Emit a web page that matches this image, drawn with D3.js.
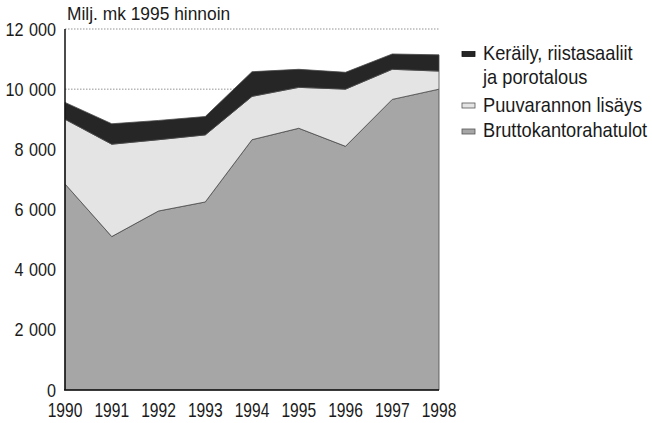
<!DOCTYPE html>
<html>
<head>
<meta charset="utf-8">
<script src="https://cdn.jsdelivr.net/npm/d3@7"></script>
<style>
  body { margin: 0; background: #fff; }
  svg text { font-family: "Liberation Sans", Arial, sans-serif; fill: #1a1a1a; }
</style>
</head>
<body>
<div id="chart"></div>
<script>
// Data (Milj. mk, 1995 prices)
const years = [1990, 1991, 1992, 1993, 1994, 1995, 1996, 1997, 1998];
const brutto = [6850, 5100, 5950, 6250, 8320, 8700, 8100, 9660, 10000];
const puuvaranto = [2150, 3070, 2370, 2230, 1440, 1360, 1900, 1000, 600];
const keraily = [560, 680, 640, 610, 820, 600, 560, 510, 540];
const yTicks = [0, 2000, 4000, 6000, 8000, 10000, 12000];
const seriesNames = ['Bruttokantorahatulot', 'Puuvarannon lisäys', 'Keräily, riistasaaliit'];

const width = 652, height = 423;
const margin = {top: 29, right: 213, bottom: 33, left: 65};

const colors = {
    'Bruttokantorahatulot': '#a6a6a6',
    'Puuvarannon lisäys': '#e4e4e4',
    'Keräily, riistasaaliit': '#262626'
};

const table = years.map((y, i) => ({
    year: y,
    'Bruttokantorahatulot': brutto[i],
    'Puuvarannon lisäys': puuvaranto[i],
    'Keräily, riistasaaliit': keraily[i]
}));

// no condensed font installed, so squeeze the glyphs horizontally
const squeeze = (tx, ty, sx) => `translate(${tx},${ty}) scale(${sx},1)`;

const svg = d3.select('#chart')
    .append('svg')
    .attr('width', width)
    .attr('height', height);

const x = d3.scaleLinear()
    .domain(d3.extent(years))
    .range([margin.left, width - margin.right]);

const y = d3.scaleLinear()
    .domain([0, 12000])
    .range([height - margin.bottom, margin.top]);

// dotted gridlines (behind the areas)
svg.append('g')
    .selectAll('line')
    .data(yTicks.filter(d => d > 0))
    .join('line')
    .attr('x1', x.range()[0])
    .attr('x2', x.range()[1])
    .attr('y1', d => y(d))
    .attr('y2', d => y(d))
    .attr('stroke', '#777')
    .attr('stroke-width', 0.8)
    .attr('stroke-dasharray', '1.5 1.5');

// stacked areas
const stack = d3.stack().keys(seriesNames);
const layers = stack(table);

const area = d3.area()
    .x(d => x(d.data.year))
    .y0(d => y(d[0]))
    .y1(d => y(d[1]));

svg.append('g')
    .selectAll('path')
    .data(layers)
    .join('path')
    .attr('fill', d => colors[d.key])
    .attr('stroke', '#4a4a4a')
    .attr('stroke-width', 0.8)
    .attr('stroke-linejoin', 'round')
    .attr('d', area);

// axes (lines only, no ticks)
svg.append('line')
    .attr('x1', x.range()[0]).attr('x2', x.range()[0])
    .attr('y1', y(12000)).attr('y2', y(0))
    .attr('stroke', '#111').attr('stroke-width', 1.5);

svg.append('line')
    .attr('x1', x.range()[0] - 1).attr('x2', x.range()[1])
    .attr('y1', y(0)).attr('y2', y(0))
    .attr('stroke', '#111').attr('stroke-width', 1.5);

// y labels
const fmt = d => d3.format(',')(d).replace(',', ' ');
svg.append('g')
    .selectAll('text')
    .data(yTicks)
    .join('text')
    .attr('transform', d => squeeze(56, y(d) + 6.5, 0.9))
    .attr('text-anchor', 'end')
    .style('font-size', '18px')
    .style('word-spacing', '1px')
    .text(fmt);

// x labels
svg.append('g')
    .selectAll('text')
    .data(years)
    .join('text')
    .attr('transform', d => squeeze(x(d), 416.5, 0.78))
    .attr('text-anchor', 'middle')
    .style('font-size', '20px')
    .text(d => d);

// unit title
svg.append('text')
    .attr('transform', squeeze(67, 20, 0.94))
    .style('font-size', '18.5px')
    .text('Milj. mk 1995 hinnoin');

// legend
const legend = [
    {key: 'Keräily, riistasaaliit', lines: ['Keräily, riistasaaliit', 'ja porotalous'], ty: 60, my: 51.5},
    {key: 'Puuvarannon lisäys', lines: ['Puuvarannon lisäys'], ty: 111.5, my: 103},
    {key: 'Bruttokantorahatulot', lines: ['Bruttokantorahatulot'], ty: 136.5, my: 129}
];

const lg = svg.append('g');
legend.forEach(item => {
    lg.append('rect')
        .attr('x', 462)
        .attr('y', item.my)
        .attr('width', 13)
        .attr('height', 5)
        .attr('fill', colors[item.key])
        .attr('stroke', item.key === 'Keräily, riistasaaliit' ? '#111' : '#555')
        .attr('stroke-width', 0.8);
    item.lines.forEach((t, i) => {
        lg.append('text')
            .attr('transform', squeeze(483, item.ty + i * 24, 0.89))
            .style('font-size', '20.5px')
            .text(t);
    });
});
</script>
</body>
</html>
